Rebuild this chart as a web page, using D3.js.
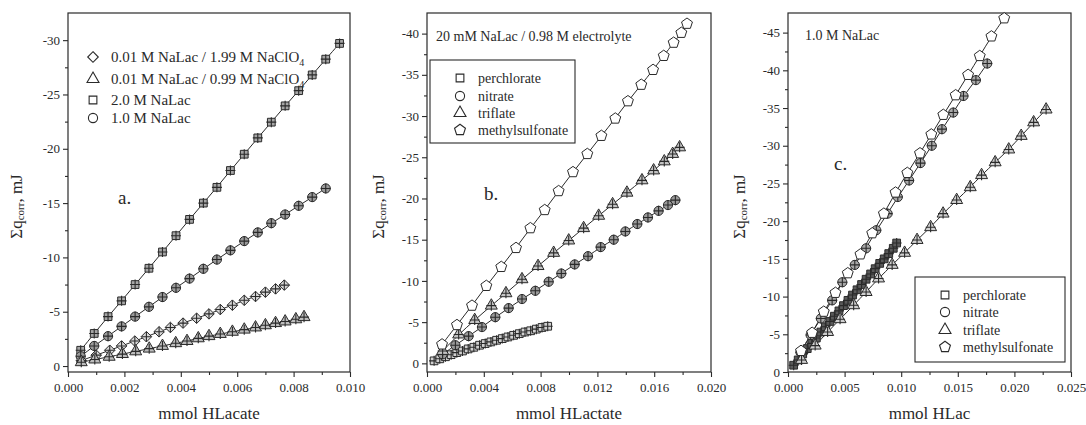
<!DOCTYPE html>
<html>
<head>
<meta charset="utf-8">
<script src="https://cdn.jsdelivr.net/npm/d3@7/dist/d3.min.js"></script>
<style>
  body { margin: 0; background: #fff; }
  svg { display: block; font-family: "Liberation Serif", "DejaVu Serif", serif; }
  text { fill: #2a2a2a; }
</style>
</head>
<body>
<div id="chart"></div>
<script>
// ---- data (x in mmol, y in mJ) ----

// panel a
var aSquare2M = [[0.00045,-1.45],[0.00093,-3.0],[0.00142,-4.55],[0.0019,-6.0],[0.00238,-7.5],[0.00287,-9.0],[0.00335,-10.5],[0.00383,-12.0],[0.00431,-13.5],[0.0048,-15.0],[0.00528,-16.45],[0.00576,-18.0],[0.00625,-19.5],[0.00673,-21.0],[0.00721,-22.45],[0.0077,-23.95],[0.00818,-25.35],[0.00866,-26.8],[0.00914,-28.25],[0.00963,-29.7]];
var aCircle1M = [[0.00045,-0.9],[0.00093,-1.85],[0.00142,-2.75],[0.0019,-3.65],[0.00238,-4.55],[0.00287,-5.45],[0.00335,-6.35],[0.00383,-7.2],[0.00431,-8.05],[0.0048,-8.95],[0.00528,-9.8],[0.00576,-10.65],[0.00625,-11.5],[0.00673,-12.3],[0.00721,-13.15],[0.0077,-13.95],[0.00818,-14.75],[0.00866,-15.55],[0.00914,-16.35]];
var aDiamond199 = [[0.00047,-0.5],[0.001,-1.0],[0.00148,-1.45],[0.0019,-1.85],[0.00237,-2.3],[0.00278,-2.7],[0.00323,-3.15],[0.00363,-3.55],[0.00408,-3.95],[0.00456,-4.4],[0.005,-4.8],[0.0054,-5.2],[0.00583,-5.6],[0.00625,-6.05],[0.00665,-6.4],[0.0070,-6.8],[0.00736,-7.1],[0.00767,-7.45]];
var aTriangle099 = [[0.00047,-0.35],[0.00095,-0.6],[0.00146,-0.85],[0.00193,-1.1],[0.0024,-1.35],[0.00288,-1.6],[0.00335,-1.85],[0.00382,-2.1],[0.00422,-2.3],[0.00462,-2.55],[0.005,-2.75],[0.0054,-2.95],[0.00583,-3.15],[0.00625,-3.35],[0.00665,-3.55],[0.007,-3.75],[0.00736,-3.95],[0.0077,-4.1],[0.00808,-4.3],[0.00837,-4.5]];

// panel b
var bPerchlorate = [[0.0005,-0.3],[0.0009,-0.55],[0.0013,-0.8],[0.0017,-1.05],[0.0021,-1.3],[0.0025,-1.5],[0.0029,-1.75],[0.0033,-1.95],[0.0037,-2.2],[0.0041,-2.4],[0.0045,-2.6],[0.0049,-2.8],[0.0053,-3.0],[0.0057,-3.2],[0.0061,-3.4],[0.0065,-3.6],[0.0069,-3.8],[0.0073,-3.95],[0.0077,-4.15],[0.0081,-4.35],[0.0085,-4.5]];
var bNitrate = [[0.0011,-1.1],[0.002,-2.2],[0.00293,-3.3],[0.00387,-4.4],[0.00481,-5.6],[0.00575,-6.7],[0.00669,-7.8],[0.00763,-8.8],[0.00857,-9.9],[0.00946,-10.9],[0.0104,-12.0],[0.01134,-13.0],[0.01223,-14.1],[0.01315,-15.0],[0.01397,-16.0],[0.01481,-16.9],[0.01556,-17.7],[0.01631,-18.5],[0.01697,-19.2],[0.01749,-19.8]];
var bTriflate = [[0.0011,-1.5],[0.00223,-3.5],[0.00336,-5.25],[0.00453,-7.0],[0.00556,-8.5],[0.00669,-10.2],[0.00782,-11.8],[0.00892,-13.4],[0.00998,-14.9],[0.01103,-16.4],[0.01209,-17.9],[0.01307,-19.3],[0.01408,-20.7],[0.01514,-22.2],[0.01596,-23.4],[0.01671,-24.5],[0.0173,-25.4],[0.01779,-26.2]];
var bMethylsulfonate = [[0.00106,-2.3],[0.00211,-4.65],[0.00317,-7.0],[0.00418,-9.4],[0.00523,-11.7],[0.00627,-14.0],[0.00728,-16.4],[0.00829,-18.6],[0.00927,-20.9],[0.01028,-23.2],[0.01129,-25.4],[0.01228,-27.6],[0.01326,-29.7],[0.01415,-31.8],[0.01509,-33.8],[0.01592,-35.6],[0.01667,-37.3],[0.01737,-38.9],[0.01791,-40.1],[0.01831,-41.2]];

// panel c
var cPerchlorate = [[0.0005,-0.9],[0.0009,-1.6],[0.0013,-2.4],[0.0017,-3.1],[0.0021,-3.8],[0.0025,-4.5],[0.0029,-5.3],[0.0033,-6.0],[0.0037,-6.7],[0.0041,-7.4],[0.0045,-8.1],[0.0049,-8.8],[0.0053,-9.5],[0.0057,-10.2],[0.0061,-10.9],[0.0065,-11.6],[0.0069,-12.3],[0.0073,-13.0],[0.0077,-13.7],[0.0081,-14.4],[0.0085,-15.0],[0.0089,-15.7],[0.0093,-16.4],[0.0096,-17.1]];
var cNitrate = [[0.0011,-2.6],[0.002,-4.9],[0.0029,-7.1],[0.0039,-9.5],[0.0048,-11.9],[0.0059,-14.2],[0.0069,-16.4],[0.0078,-18.8],[0.0088,-21.0],[0.0097,-23.2],[0.0107,-25.4],[0.0117,-27.7],[0.0127,-30.0],[0.0136,-32.2],[0.0146,-34.4],[0.0155,-36.6],[0.0166,-38.7],[0.0176,-40.9]];
var cTriflate = [[0.0012,-1.6],[0.0024,-3.5],[0.0035,-5.3],[0.0046,-7.0],[0.0058,-8.85],[0.0069,-10.6],[0.008,-12.4],[0.0092,-14.2],[0.0103,-15.8],[0.0114,-17.5],[0.0126,-19.2],[0.0137,-21.0],[0.0149,-22.8],[0.0161,-24.5],[0.0171,-26.1],[0.0183,-27.8],[0.0195,-29.5],[0.0206,-31.3],[0.0217,-33.1],[0.0228,-34.8]];
var cMethylsulfonate = [[0.00115,-2.8],[0.00213,-5.2],[0.00316,-8.0],[0.00419,-10.5],[0.00528,-13.1],[0.0064,-15.6],[0.00744,-18.4],[0.00847,-21.0],[0.0095,-23.8],[0.01054,-26.4],[0.01166,-29.0],[0.01266,-31.5],[0.01372,-34.1],[0.01481,-36.7],[0.01591,-39.4],[0.01694,-41.9],[0.01797,-44.5],[0.0191,-46.9]];

// legend labels
var aLegend = ["0.01 M NaLac / 1.99 M NaClO|4", "0.01 M NaLac / 0.99 M NaClO|4", "2.0 M NaLac", "1.0 M NaLac"];
var anionLegend = ["perchlorate", "nitrate", "triflate", "methylsulfonate"];
var xTitles = ["mmol HLacate", "mmol HLactate", "mmol HLac"];

// ---- custom symbols ----
var symbolDiamondSq = {
  draw: function (ctx, size) {
    var r = Math.sqrt(size / 2);
    ctx.moveTo(0, -r); ctx.lineTo(r, 0); ctx.lineTo(0, r); ctx.lineTo(-r, 0); ctx.closePath();
  }
};
var symbolPentagon = {
  draw: function (ctx, size) {
    var r = Math.sqrt(size / (2.5 * Math.sin(2 * Math.PI / 5)));
    for (var i = 0; i < 5; i++) {
      var a = -Math.PI / 2 + i * 2 * Math.PI / 5;
      if (i === 0) ctx.moveTo(r * Math.cos(a), r * Math.sin(a));
      else ctx.lineTo(r * Math.cos(a), r * Math.sin(a));
    }
    ctx.closePath();
  }
};
var shapes = {
  square:   { type: d3.symbolSquare,   size: 60 },
  circle:   { type: d3.symbolCircle,   size: 66 },
  triangle: { type: d3.symbolTriangle, size: 62 },
  diamond:  { type: symbolDiamondSq,   size: 56 },
  pentagon: { type: symbolPentagon,    size: 78 }
};

var panels = [
  {
    left: 68, right: 350, top: 13, bottom: 372,
    xDomain: [0, 0.010], yDomain: [0.55, -32.5],
    xMajor: d3.range(0, 0.0101, 0.002), xMinor: d3.range(0.001, 0.0101, 0.002),
    yMajor: d3.range(0, -32, -5), yMinor: d3.range(-2.5, -32.5, -5),
    yTitleX: 16, letter: "a.", letterPos: [118, 204],
    series: [
      { data: aSquare2M,    shape: "square",   fill: "#a6a6a6", cross: true },
      { data: aCircle1M,    shape: "circle",   fill: "#9a9a9a", cross: true },
      { data: aDiamond199,  shape: "diamond",  fill: "#d8d8d8", cross: true },
      { data: aTriangle099, shape: "triangle", fill: "#bdbdbd", cross: true }
    ]
  },
  {
    left: 427, right: 711, top: 13, bottom: 372,
    xDomain: [0, 0.020], yDomain: [1.05, -42.5],
    xMajor: d3.range(0, 0.0201, 0.004), xMinor: d3.range(0.002, 0.0201, 0.004),
    yMajor: d3.range(0, -42, -5), yMinor: d3.range(-2.5, -42.5, -5),
    yTitleX: 378, letter: "b.", letterPos: [484, 200],
    series: [
      { data: bPerchlorate,     shape: "square",   fill: "#d0d0d0", cross: true },
      { data: bNitrate,         shape: "circle",   fill: "#9a9a9a", cross: true },
      { data: bTriflate,        shape: "triangle", fill: "#c4c4c4", cross: true },
      { data: bMethylsulfonate, shape: "pentagon", fill: "#ffffff", cross: false }
    ]
  },
  {
    left: 788, right: 1071, top: 13, bottom: 372,
    xDomain: [0, 0.025], yDomain: [0, -47.6],
    xMajor: d3.range(0, 0.0251, 0.005), xMinor: d3.range(0.0025, 0.0251, 0.005),
    yMajor: d3.range(0, -47, -5), yMinor: d3.range(-2.5, -47.5, -5),
    yTitleX: 739, letter: "c.", letterPos: [834, 170],
    series: [
      { data: cPerchlorate,     shape: "square",   fill: "#5a5a5a", cross: true },
      { data: cNitrate,         shape: "circle",   fill: "#a8a8a8", cross: true },
      { data: cTriflate,        shape: "triangle", fill: "#d0d0d0", cross: true },
      { data: cMethylsulfonate, shape: "pentagon", fill: "#ffffff", cross: false }
    ]
  }
];

var ink = "#2a2a2a";
var serif = "'Liberation Serif', 'DejaVu Serif', serif";
var svg = d3.select("#chart").append("svg").attr("width", 1086).attr("height", 425);

panels.forEach(function (p, pi) {
  var x = d3.scaleLinear().domain(p.xDomain).range([p.left, p.right]);
  var y = d3.scaleLinear().domain(p.yDomain).range([p.bottom, p.top]);
  var g = svg.append("g");

  // frame
  g.append("rect")
    .attr("x", p.left).attr("y", p.top)
    .attr("width", p.right - p.left).attr("height", p.bottom - p.top)
    .attr("fill", "none").attr("stroke", ink).attr("stroke-width", 1.2);

  // axes: major + minor ticks pointing out
  var xAxis = d3.axisBottom(x).tickValues(p.xMajor).tickSize(5).tickSizeOuter(0).tickFormat(d3.format(".3f"));
  var xMinorAxis = d3.axisBottom(x).tickValues(p.xMinor).tickSize(3).tickFormat("");
  var yAxis = d3.axisLeft(y).tickValues(p.yMajor).tickSize(5).tickSizeOuter(0).tickFormat(function (d) { return String(Math.round(d)); });
  var yMinorAxis = d3.axisLeft(y).tickValues(p.yMinor).tickSize(3).tickFormat("");

  [[xAxis, "bottom"], [xMinorAxis, "bottom"], [yAxis, "left"], [yMinorAxis, "left"]].forEach(function (ax) {
    var a = g.append("g")
      .attr("transform", ax[1] === "bottom" ? "translate(0," + p.bottom + ")" : "translate(" + p.left + ",0)")
      .call(ax[0])
      .attr("font-family", serif).attr("font-size", 13);
    a.select(".domain").remove();
    a.selectAll("line").attr("stroke", ink).attr("stroke-width", 1.1);
    a.selectAll("text").attr("fill", ink);
    if (ax[1] === "bottom") a.selectAll("text").attr("dy", "0.9em");
  });

  // axis titles
  g.append("text")
    .attr("x", (p.left + p.right) / 2).attr("y", 419)
    .attr("text-anchor", "middle").style("font-size", "17px")
    .text(xTitles[pi]);

  var yt = g.append("text")
    .attr("transform", "translate(" + p.yTitleX + "," + ((p.top + p.bottom) / 2 + 14) + ") rotate(-90)")
    .attr("text-anchor", "middle").attr("dominant-baseline", "central").style("font-size", "17px");
  yt.append("tspan").text("\u03A3q");
  yt.append("tspan").attr("dy", 4).style("font-size", "11px").text("corr");
  yt.append("tspan").attr("dy", -4).text(", mJ");

  // panel letter
  g.append("text").attr("x", p.letterPos[0]).attr("y", p.letterPos[1])
    .style("font-size", "19px").text(p.letter);

  // fit lines
  var line = d3.line().x(function (d) { return x(d[0]); }).y(function (d) { return y(d[1]); }).curve(d3.curveBasis);
  p.series.forEach(function (s) {
    g.append("path").datum(s.data).attr("d", line)
      .attr("fill", "none").attr("stroke", ink).attr("stroke-width", 1);
  });

  // markers
  p.series.forEach(function (s) {
    var sym = d3.symbol().type(shapes[s.shape].type).size(shapes[s.shape].size);
    var m = g.append("g").selectAll("g").data(s.data).join("g")
      .attr("transform", function (d) { return "translate(" + x(d[0]) + "," + y(d[1]) + ")"; });
    m.append("path").attr("d", sym).attr("fill", s.fill).attr("stroke", ink).attr("stroke-width", 1);
    if (s.cross) {
      m.append("path").attr("d", "M-5,0H5M0,-5V5").attr("stroke", ink).attr("stroke-width", 1.1);
    }
  });
});

// ---- legends and notes ----
function legendSymbol(sel, shape, cx, cy) {
  sel.append("path")
    .attr("transform", "translate(" + cx + "," + cy + ")")
    .attr("d", d3.symbol().type(shapes[shape].type).size(shapes[shape].size))
    .attr("fill", "none").attr("stroke", ink).attr("stroke-width", 1.1);
}

// panel a legend (no frame)
var aShapes = ["diamond", "triangle", "square", "circle"];
var aRows = [57, 79, 100, 118];
aLegend.forEach(function (label, i) {
  legendSymbol(svg, aShapes[i], 93, aRows[i]);
  var parts = label.split("|");
  var t = svg.append("text").attr("x", 111).attr("y", aRows[i] + 5).style("font-size", "15px");
  t.append("tspan").text(parts[0]);
  if (parts[1]) t.append("tspan").attr("dy", 4).style("font-size", "10px").text(parts[1]);
});

// boxed legends for b and c
[[430, 60, 145, 83, 460, 478, [78, 96, 113, 130]], [915, 277, 150, 85, 945, 963, [295, 312, 330, 347]]].forEach(function (L) {
  svg.append("rect").attr("x", L[0]).attr("y", L[1]).attr("width", L[2]).attr("height", L[3])
    .attr("fill", "#fff").attr("stroke", ink).attr("stroke-width", 1.1);
  var order = ["square", "circle", "triangle", "pentagon"];
  anionLegend.forEach(function (label, i) {
    legendSymbol(svg, order[i], L[4], L[6][i]);
    svg.append("text").attr("x", L[5]).attr("y", L[6][i] + 5).style("font-size", "14px").text(label);
  });
});

svg.append("text").attr("x", 436).attr("y", 41).style("font-size", "14px").text("20 mM NaLac / 0.98 M electrolyte");
svg.append("text").attr("x", 805).attr("y", 40).style("font-size", "14px").text("1.0 M NaLac");
</script>
</body>
</html>
